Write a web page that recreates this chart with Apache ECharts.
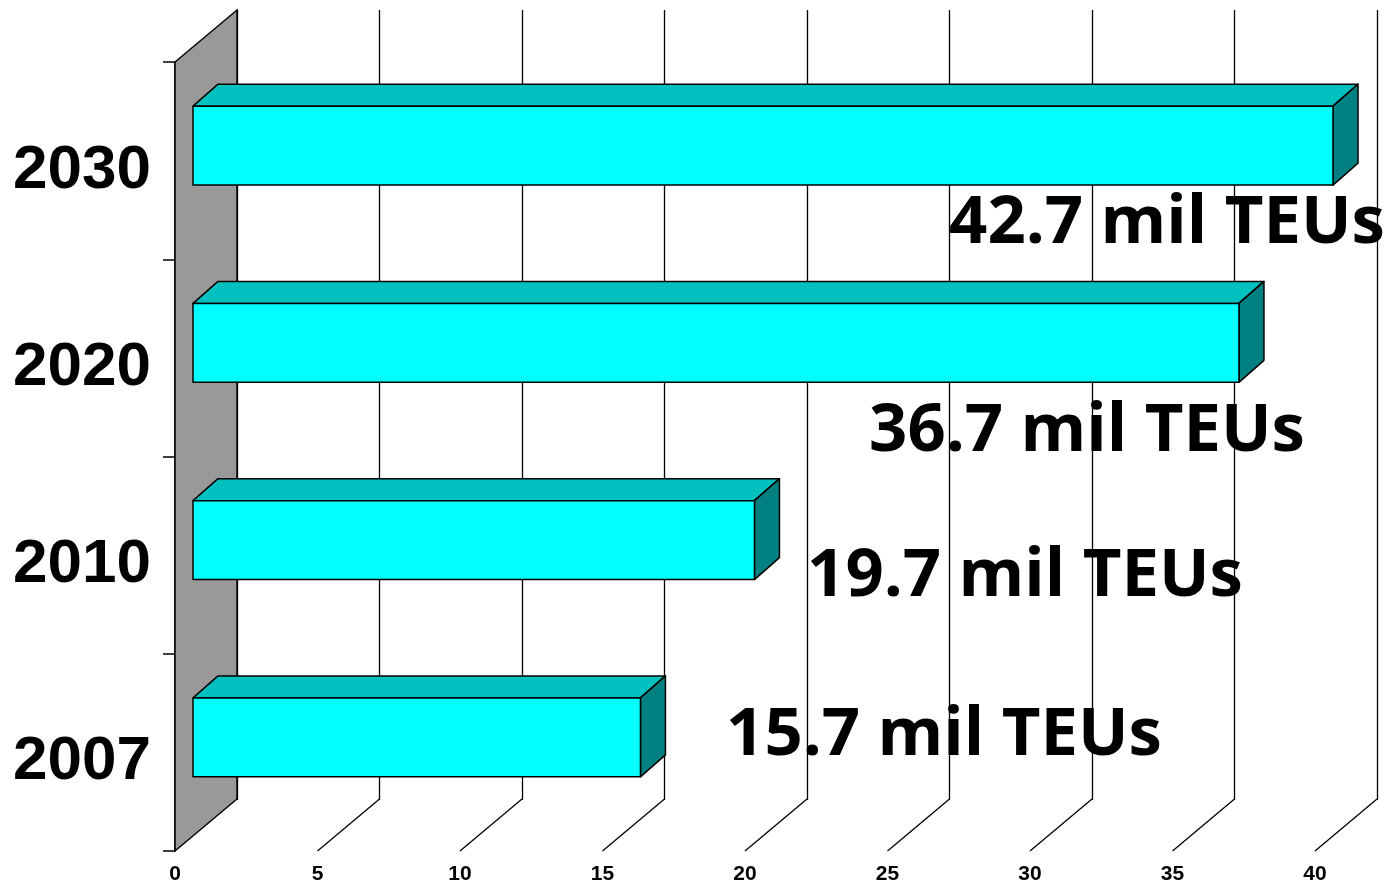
<!DOCTYPE html>
<html>
<head>
<meta charset="utf-8">
<script src="https://cdn.jsdelivr.net/npm/echarts@6/dist/echarts.min.js"></script>
<style>
html,body{margin:0;padding:0;background:#fff;}
#chart{width:1391px;height:885px;}
</style>
</head>
<body>
<div id="chart"></div>
<script>
// ---- data ----
var categories = ['2007', '2010', '2020', '2030'];
var values = [15.7, 19.7, 36.7, 42.7];
var labelTexts = ['15.7 mil TEUs', '19.7 mil TEUs', '36.7 mil TEUs', '42.7 mil TEUs'];
var xTicks = [0, 5, 10, 15, 20, 25, 30, 35, 40];

// ---- layout / style constants ----
var X_MAX = 40;
var WALL_DX = 62, WALL_DY = -52;     // depth of the chart box
var BAR_DX0 = 18, BAR_DY0 = -15;     // bar front face offset into depth
var BAR_DX = 25, BAR_DY = -22;       // bar depth
var BAR_FRAC = 0.4;
var labelPos = [[944, 736], [1025, 577], [1087, 432], [1167, 224]];

var chart = echarts.init(document.getElementById('chart'), null, {renderer: 'canvas'});

var option = {
  animation: false,
  backgroundColor: '#ffffff',
  grid: [
    {left: 175, top: 62, width: 1140, height: 790},
    {left: 175 + WALL_DX, top: 62 + WALL_DY, width: 1140, height: 790}
  ],
  xAxis: [
    {
      type: 'value', gridIndex: 0, min: 0, max: X_MAX, interval: 5,
      axisLine: {show: false}, axisTick: {show: false}, splitLine: {show: false},
      axisLabel: {
        color: '#000', fontFamily: 'Liberation Sans', fontWeight: 'bold', fontSize: 21, margin: 13
      }
    },
    {
      type: 'value', gridIndex: 1, min: 0, max: X_MAX, interval: 5,
      axisLine: {show: false}, axisTick: {show: false}, axisLabel: {show: false},
      splitLine: {show: true, lineStyle: {color: '#000', width: 1.3}}
    }
  ],
  yAxis: [
    {
      type: 'category', gridIndex: 0, data: categories,
      axisLine: {show: true, lineStyle: {color: '#000', width: 1.5}},
      axisTick: {show: true, length: 12, lineStyle: {color: '#000', width: 1.5}},
      axisLabel: {
        color: '#000', fontFamily: 'Liberation Sans', fontWeight: 'bold', fontSize: 62, margin: 24,
        verticalAlign: 'top', lineHeight: 20
      }
    },
    {
      type: 'category', gridIndex: 1, data: categories, show: false
    }
  ],
  series: [
    {
      name: 'frame',
      type: 'custom',
      xAxisIndex: 0, yAxisIndex: 0,
      data: xTicks.map(function (t) { return [t, 0]; }),
      silent: true,
      renderItem: function (params, api) {
        var cs = params.coordSys;
        var v = api.value(0);
        var x = api.coord([v, 0])[0];
        var yb = cs.y + cs.height;
        var yt = cs.y;
        if (v === 0) {
          return {
            type: 'polygon',
            shape: {points: [[x, yt], [x, yb], [x + WALL_DX, yb + WALL_DY], [x + WALL_DX, yt + WALL_DY]]},
            style: {fill: '#999999', stroke: '#000', lineWidth: 1.5}
          };
        }
        return {
          type: 'line',
          shape: {x1: x, y1: yb, x2: x + WALL_DX, y2: yb + WALL_DY},
          style: {stroke: '#000', lineWidth: 1.3}
        };
      }
    },
    {
      name: 'TEUs',
      type: 'custom',
      xAxisIndex: 0, yAxisIndex: 0,
      data: values.map(function (v, i) { return [v, i]; }),
      renderItem: function (params, api) {
        var v = Math.min(api.value(0), X_MAX);
        var cat = api.value(1);
        var p0 = api.coord([0, cat]);
        var p1 = api.coord([v, cat]);
        var h = api.size([0, 1])[1] * BAR_FRAC;
        var xl = p0[0] + BAR_DX0;
        var xr = p1[0] + BAR_DX0;
        var yc = p0[1] + BAR_DY0;
        var yt = yc - h / 2, yb = yc + h / 2;
        var ls = {stroke: '#000', lineWidth: 1.5, lineJoin: 'round'};
        return {
          type: 'group',
          children: [
            {
              type: 'polygon',
              shape: {points: [[xl, yt], [xl + BAR_DX, yt + BAR_DY], [xr + BAR_DX, yt + BAR_DY], [xr, yt]]},
              style: Object.assign({fill: '#00C0C0'}, ls)
            },
            {
              type: 'polygon',
              shape: {points: [[xr, yt], [xr + BAR_DX, yt + BAR_DY], [xr + BAR_DX, yb + BAR_DY], [xr, yb]]},
              style: Object.assign({fill: '#008080'}, ls)
            },
            {
              type: 'rect',
              shape: {x: xl, y: yt, width: xr - xl, height: h},
              style: Object.assign({fill: '#00FFFF'}, ls)
            }
          ]
        };
      }
    }
  ],
  graphic: labelTexts.map(function (t, i) {
    return {
      type: 'text',
      x: labelPos[i][0], y: labelPos[i][1],
      z: 100,
      style: {
        text: t,
        fill: '#000',
        font: 'bold 67px "Open Sans"',
        align: 'center',
        verticalAlign: 'middle'
      }
    };
  })
};

chart.setOption(option);
</script>
</body>
</html>
